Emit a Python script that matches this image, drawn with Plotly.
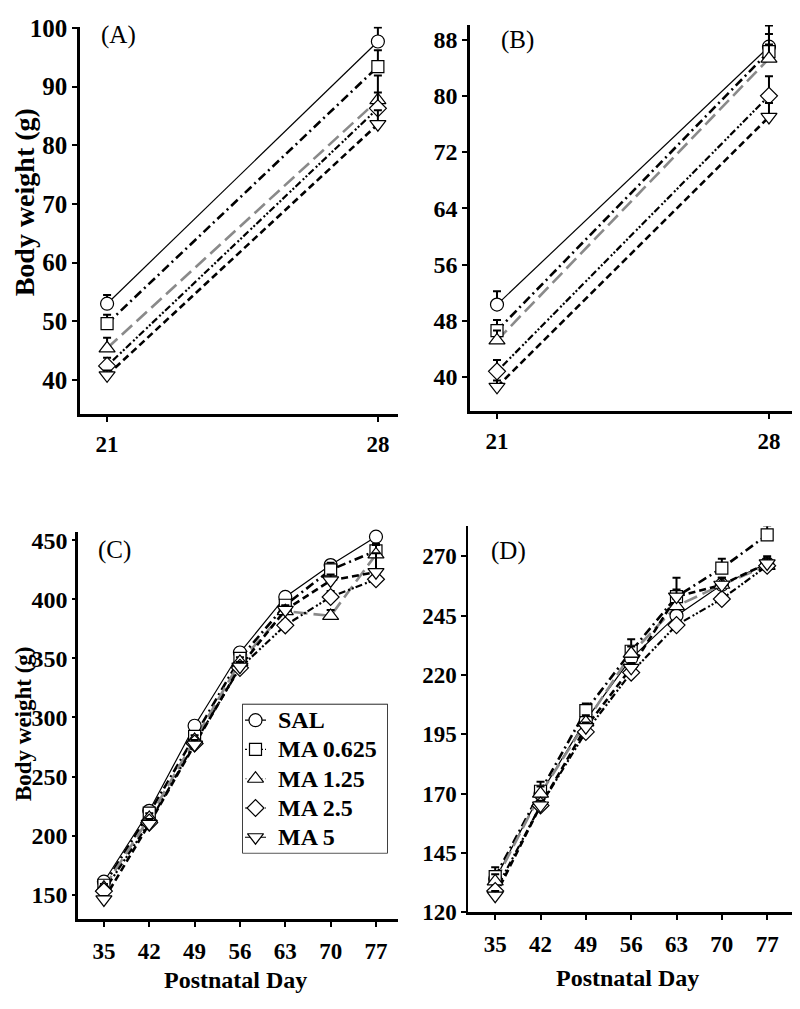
import plotly.graph_objects as go

# ---------------- data ----------------
groups = ["SAL", "MA 0.625", "MA 1.25", "MA 2.5", "MA 5"]

days_ab = [21, 28]
days_cd = [35, 42, 49, 56, 63, 70, 77]

# Panel A
sal_a = [53.0, 97.7]
ma0625_a = [49.6, 93.4]
ma125_a = [45.4, 87.7]
ma25_a = [42.4, 86.3]
ma5_a = [40.8, 83.6]
err_a = {"SAL": [1.5, 2.4], "MA 0.625": [1.5, 2.8], "MA 1.25": [1.8, 4.2],
         "MA 2.5": [1.4, 2.7], "MA 5": [0.8, 2.4]}

# Panel B
sal_b = [50.3, 87.0]
ma0625_b = [46.6, 86.3]
ma125_b = [45.2, 85.3]
ma25_b = [40.8, 80.0]
ma5_b = [38.6, 77.0]
err_b = {"SAL": [1.9, 3.0], "MA 0.625": [1.5, 2.5], "MA 1.25": [1.4, 2.0],
         "MA 2.5": [1.6, 2.8], "MA 5": [0.9, 2.0]}

# Panel C
sal_c = [161, 221, 293, 355, 402, 429, 453]
ma0625_c = [158, 219, 284, 350, 395, 425, 441]
ma125_c = [156, 215, 281, 347, 390, 386, 438]
ma25_c = [153, 211, 278, 342, 378, 402, 417]
ma5_c = [146, 210, 277, 343, 391, 416, 423]
err_c = {"SAL": [3, 3, 4, 4, 4, 4, 3], "MA 0.625": [3, 4, 4, 4, 4, 6, 6],
         "MA 1.25": [3, 4, 4, 4, 4, 5, 8], "MA 2.5": [3, 4, 4, 4, 4, 5, 5],
         "MA 5": [3, 4, 4, 4, 4, 5, 16]}

# Panel D
sal_d = [134, 170, 201, 227, 245, 258, 267]
ma0625_d = [135, 171, 205, 230, 253, 265, 279]
ma125_d = [133, 170, 200, 229, 249, 258, 266]
ma25_d = [129, 165, 196, 221, 241, 252, 266]
ma5_d = [127, 165, 198, 223, 253, 258, 267]
err_d = {"SAL": [2, 2, 2, 2, 2, 2, 2], "MA 0.625": [4, 4, 3, 5, 3, 4, 4],
         "MA 1.25": [3, 3, 3, 3, 3, 3, 3], "MA 2.5": [2, 2, 2, 2, 2, 2, 2],
         "MA 5": [2, 2, 2, 2, 8, 3, 3]}

ticks_a = [40, 50, 60, 70, 80, 90, 100]
ticks_b = [40, 48, 56, 64, 72, 80, 88]
ticks_c = [150, 200, 250, 300, 350, 400, 450]
ticks_d = [120, 145, 170, 195, 220, 245, 270]

panels = {
    "A": (days_ab, [sal_a, ma0625_a, ma125_a, ma25_a, ma5_a], err_a),
    "B": (days_ab, [sal_b, ma0625_b, ma125_b, ma25_b, ma5_b], err_b),
    "C": (days_cd, [sal_c, ma0625_c, ma125_c, ma25_c, ma5_c], err_c),
    "D": (days_cd, [sal_d, ma0625_d, ma125_d, ma25_d, ma5_d], err_d),
}

# ---------------- styles ----------------
FONT = "Liberation Serif, Times New Roman, serif"
styles = {
    "SAL": dict(color="black", width=1.2, dash="solid", symbol="circle", msize=13),
    "MA 0.625": dict(color="black", width=2.6, dash="9px,4px,2px,4px", symbol="square", msize=12),
    "MA 1.25": dict(color="#8a8a8a", width=2.6, dash="14px,6px", symbol="triangle-up", msize=14),
    "MA 2.5": dict(color="black", width=2.2, dash="2px,2px,2px,2px,7px,3px", symbol="diamond", msize=13),
    "MA 5": dict(color="black", width=2.6, dash="7px,4px", symbol="triangle-down", msize=14),
}

axes_ids = {"A": ("x", "y"), "B": ("x2", "y2"), "C": ("x3", "y3"), "D": ("x4", "y4")}

fig = go.Figure()

for p, (days, series, errs) in panels.items():
    xa, ya = axes_ids[p]
    for g, vals in zip(groups, series):
        s = styles[g]
        fig.add_trace(go.Scatter(x=days, y=vals, mode="lines", xaxis=xa, yaxis=ya,
                                 line=dict(color=s["color"], width=s["width"], dash=s["dash"]),
                                 showlegend=False, hoverinfo="skip", cliponaxis=False))
    for g, vals in zip(groups, series):
        s = styles[g]
        fig.add_trace(go.Scatter(x=days, y=vals, mode="markers", xaxis=xa, yaxis=ya,
                                 marker=dict(symbol=s["symbol"], size=s["msize"], color="white",
                                             line=dict(color="black", width=1.2)),
                                 error_y=dict(type="data", symmetric=False, array=errs[g],
                                              arrayminus=[0] * len(vals), color="black",
                                              thickness=2, width=4),
                                 showlegend=False, cliponaxis=False))

# ---------------- geometry (page is offset by 8px body margin) ----------------
W, H = 800, 1009
OFF = 8


def px(x):
    return (x - OFF) / W


def py(y):
    return 1 - (y - OFF) / H


def xd(a, b):
    return [px(a), px(b)]


def yd(top, bottom):
    return [py(bottom), py(top)]


# manual legend drawn on its own small axis (pixel-like units)
leg_box = (243, 387, 710, 862)
leg_rows = [726, 756, 786, 816, 846]
for g, yrow in zip(groups, leg_rows):
    s = styles[g]
    fig.add_trace(go.Scatter(x=[245, 266], y=[yrow, yrow], mode="lines", xaxis="x5", yaxis="y5",
                             line=dict(color=s["color"], width=1.2,
                                       dash="solid" if g in ("SAL", "MA 5") else "2px,2px"),
                             showlegend=False, hoverinfo="skip", cliponaxis=False))
    fig.add_trace(go.Scatter(x=[255.5], y=[yrow], mode="markers", xaxis="x5", yaxis="y5",
                             marker=dict(symbol=s["symbol"], size=s["msize"], color="white",
                                         line=dict(color="black", width=1.2)),
                             showlegend=False, hoverinfo="skip", cliponaxis=False))


def tfont(size):
    return dict(family=FONT, size=size, color="black", weight="bold")


axis_common = dict(showline=True, linecolor="black", linewidth=2.5, showgrid=False, zeroline=False,
                   ticks="outside", ticklen=5, tickwidth=2, tickcolor="black",
                   ticklabeloverflow="allow")

layout = dict(
    width=W, height=H, margin=dict(l=0, r=0, t=0, b=0),
    paper_bgcolor="white", plot_bgcolor="white",
    font=dict(family=FONT, color="black"),
    showlegend=False,
    xaxis=dict(domain=xd(80, 398), range=[20.3, 28.52], tickvals=days_ab, anchor="y",
               tickfont=tfont(23), ticklabelstandoff=3, **axis_common),
    yaxis=dict(domain=yd(15, 412), range=[34.2, 100.2], tickvals=ticks_a, anchor="x",
               tickfont=tfont(25), **axis_common),
    xaxis2=dict(domain=xd(470, 795), range=[20.305, 28.67], tickvals=days_ab, anchor="y2",
                tickfont=tfont(23), ticklabelstandoff=3, **axis_common),
    yaxis2=dict(domain=yd(13, 409), range=[35.15, 90.1], tickvals=ticks_b, anchor="x2",
                tickfont=tfont(24), **axis_common),
    xaxis3=dict(domain=xd(78, 398), range=[31.0, 80.4], tickvals=days_cd, anchor="y3",
                tickfont=tfont(23), ticklabelstandoff=4, **axis_common),
    yaxis3=dict(domain=yd(533, 930), range=[129.3, 457], tickvals=ticks_c, anchor="x3",
                tickfont=tfont(24), **{**axis_common, "ticklen": 3}),
    xaxis4=dict(domain=xd(468, 795), range=[30.8, 81.3], tickvals=days_cd, anchor="y4",
                tickfont=tfont(23), ticklabelstandoff=4, **axis_common),
    yaxis4=dict(domain=yd(527, 923), range=[120, 282.7], tickvals=ticks_d, anchor="x4",
                tickfont=tfont(23), **{**axis_common, "linewidth": 1.5}),
    xaxis5=dict(domain=xd(leg_box[0], leg_box[1]), range=[leg_box[0], leg_box[1]], visible=False,
                anchor="y5", fixedrange=True),
    yaxis5=dict(domain=yd(leg_box[2], leg_box[3]), range=[leg_box[3], leg_box[2]], visible=False,
                anchor="x5", fixedrange=True),
)
fig.update_layout(**layout)

fig.add_shape(type="rect", xref="paper", yref="paper",
              x0=px(leg_box[0]), x1=px(leg_box[1]), y0=py(leg_box[3]), y1=py(leg_box[2]),
              line=dict(color="black", width=1.5), fillcolor="rgba(0,0,0,0)", layer="below")

annotations = [
    dict(text="Body weight (g)", x=px(24), y=py(195), textangle=-90, font=tfont(28),
         xref="paper", yref="paper"),
    dict(text="Body weight (g)", x=px(23), y=py(730), textangle=-90, font=tfont(23),
         xref="paper", yref="paper"),
    dict(text="Postnatal Day", x=px(236), y=py(992), font=tfont(24), xref="paper", yref="paper"),
    dict(text="Postnatal Day", x=px(627), y=py(990), font=tfont(24), xref="paper", yref="paper"),
    dict(text="(A)", x=px(118), y=py(23), font=dict(family=FONT, size=25, color="black"),
         xref="paper", yref="paper"),
    dict(text="(B)", x=px(518), y=py(29), font=dict(family=FONT, size=25, color="black"),
         xref="paper", yref="paper"),
    dict(text="(C)", x=px(114), y=py(551), font=dict(family=FONT, size=25, color="black"),
         xref="paper", yref="paper"),
    dict(text="(D)", x=px(508), y=py(552), font=dict(family=FONT, size=25, color="black"),
         xref="paper", yref="paper"),
]
for a in annotations:
    a.update(showarrow=False, xanchor="center", yanchor="middle")
for g, yrow in zip(groups, leg_rows):
    annotations.append(dict(text=g, x=276, y=yrow, xref="x5", yref="y5", showarrow=False,
                            xanchor="left", yanchor="middle", font=tfont(24)))
fig.update_layout(annotations=annotations)

fig.write_html("out.html")
